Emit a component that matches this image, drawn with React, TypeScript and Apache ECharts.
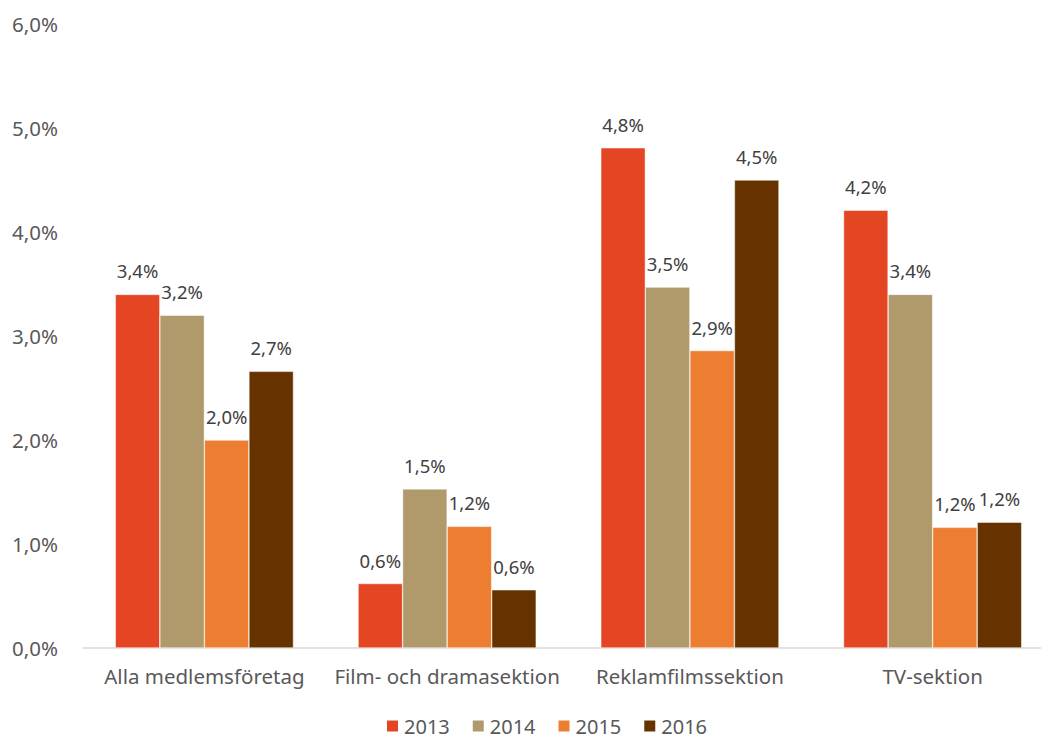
import React, { useEffect, useRef } from "react";
import * as echarts from "echarts";

const categories = ["Alla medlemsföretag", "Film- och dramasektion", "Reklamfilmssektion", "TV-sektion"];
const years = ["2013", "2014", "2015", "2016"];
const v2013 = [3.4, 0.62, 4.81, 4.21];
const v2014 = [3.2, 1.53, 3.47, 3.4];
const v2015 = [2.0, 1.17, 2.86, 1.16];
const v2016 = [2.66, 0.56, 4.5, 1.21];
const yTicks = [0, 1, 2, 3, 4, 5, 6];
const colors = ["#E44623", "#B0996B", "#ED7D31", "#663300"];

const fmt = (v: number) => v.toFixed(1).replace(".", ",") + "%";
const FONT = "Noto Sans";

export default function App() {
  const ref = useRef<HTMLDivElement>(null);
  useEffect(() => {
    if (!ref.current) return;
    const chart = echarts.init(ref.current, undefined, { renderer: "svg" });
    const all = [v2013, v2014, v2015, v2016];
    chart.setOption({
      animation: false,
      textStyle: { fontFamily: FONT },
      grid: { left: 83, width: 971, top: 24, bottom: 90, containLabel: false },
      legend: {
        data: years,
        top: 711,
        left: 380,
        itemWidth: 13,
        itemHeight: 13,
        itemGap: 21,
        icon: "rect",
        textStyle: { fontFamily: FONT, fontSize: 20, color: "#595959" },
      },
      xAxis: {
        type: "category",
        data: categories,
        axisLine: { lineStyle: { color: "#D9D9D9", width: 1.5 } },
        axisTick: { show: false },
        axisLabel: { fontFamily: FONT, fontSize: 20.5, color: "#595959", margin: 17, interval: 0 },
      },
      yAxis: {
        type: "value",
        min: yTicks[0],
        max: yTicks[yTicks.length - 1],
        interval: 1,
        axisLine: { show: false },
        axisTick: { show: false },
        splitLine: { show: false },
        axisLabel: { fontFamily: FONT, fontSize: 20.5, color: "#595959", margin: 25, formatter: (v: number) => fmt(v) },
      },
      series: years.map((y, i) => ({
        name: y,
        type: "bar",
        data: all[i],
        barGap: "0%",
        barCategoryGap: "26.6%",
        itemStyle: { color: colors[i], borderColor: "#FFFFFF", borderWidth: 0.5 },
        label: {
          show: true,
          position: "top",
          distance: 14,
          fontFamily: FONT,
          fontSize: 18.5,
          color: "#404040",
          formatter: (p: any) => fmt(p.value),
        },
      })),
    });
    return () => chart.dispose();
  }, []);
  return (
    <div style={{ position: "fixed", left: 0, top: 0, width: 1041, height: 738, overflow: "hidden", background: "#fff" }}>
      <div ref={ref} style={{ width: 1070, height: 738 }} />
    </div>
  );
}
